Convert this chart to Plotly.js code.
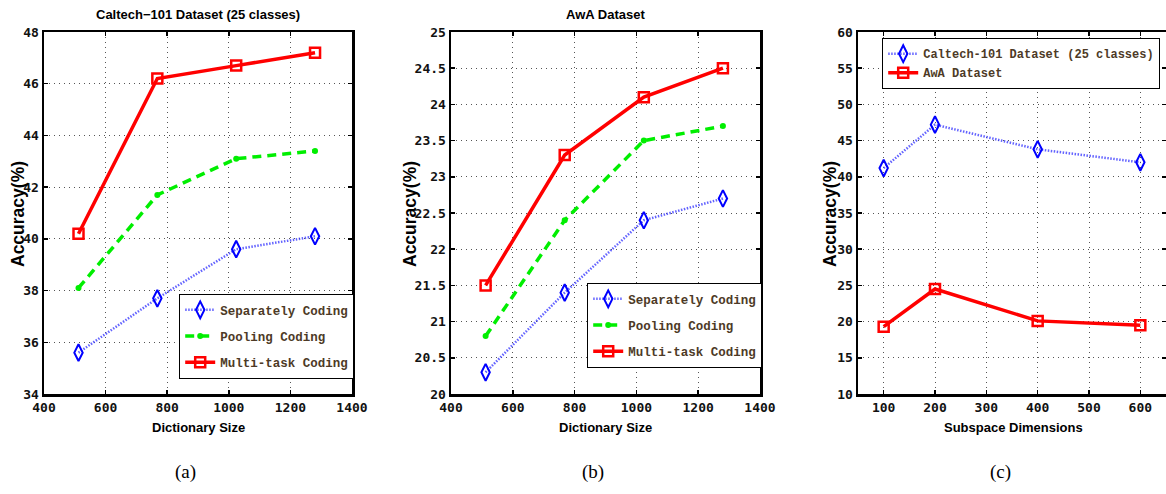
<!DOCTYPE html>
<html>
<head>
<meta charset="utf-8">
<script src="https://cdn.plot.ly/plotly-3.0.1.min.js"></script>
<style>html,body{margin:0;padding:0;background:#fff;overflow:hidden}</style>
</head>
<body>
<div id="chart" style="width:1166px;height:494px"></div>
<script>
// ---- data ----
const dictSizes = [512, 768, 1024, 1280];
const calSeparately = [35.6, 37.7, 39.6, 40.1];
const calPooling = [38.1, 41.7, 43.1, 43.4];
const calMultitask = [40.2, 46.2, 46.7, 47.2];
const awaSeparately = [20.3, 21.4, 22.4, 22.7];
const awaPooling = [20.8, 22.4, 23.5, 23.7];
const awaMultitask = [21.5, 23.3, 24.1, 24.5];
const subspaceDims = [100, 200, 400, 600];
const dimCaltech = [41.2, 47.2, 43.8, 42.0];
const dimAwa = [19.3, 24.5, 20.1, 19.5];
const codingNames = ['Separately Coding', 'Pooling Coding', 'Multi-task Coding'];
const datasetNames = ['Caltech-101 Dataset (25 classes)', 'AwA Dataset'];
const panelTitles = ['Caltech\u2212101 Dataset (25 classes)', 'AwA Dataset', ''];
const xTitles = ['Dictionary Size', 'Dictionary Size', 'Subspace Dimensions'];
const yTitle = 'Accuracy(%)';
const panelLabels = ['(a)', '(b)', '(c)'];

// ---- styles ----
const W = 1166, H = 494;
const sepStyle = {
  line: {color: 'rgba(60,60,255,0.8)', width: 2.5, dash: '1.5px,1.5px'},
  marker: {symbol: 'diamond-tall-open', size: 12, color: '#0000ff', line: {width: 2, color: '#0000ff'}}
};
const poolStyle = {
  line: {color: '#00ee00', width: 3.5, dash: '9px,6px'},
  marker: {symbol: 'circle', size: 6, color: '#00ee00'}
};
const multiStyle = {
  line: {color: '#ff0000', width: 3.5},
  marker: {symbol: 'square-open', size: 10, color: '#ff0000', line: {width: 2.5, color: '#ff0000'}}
};
const styles = [sepStyle, poolStyle, multiStyle];

function mk(x, y, name, st, xa, ya, legend, group) {
  return {
    x: x, y: y, name: name, type: 'scatter', mode: 'lines+markers',
    line: st.line, marker: st.marker, xaxis: xa, yaxis: ya,
    legend: legend, legendgroup: group
  };
}

const traces = [];
[calSeparately, calPooling, calMultitask].forEach((ys, i) =>
  traces.push(mk(dictSizes, ys, codingNames[i], styles[i], 'x', 'y', 'legend', 'a' + i)));
[awaSeparately, awaPooling, awaMultitask].forEach((ys, i) =>
  traces.push(mk(dictSizes, ys, codingNames[i], styles[i], 'x2', 'y2', 'legend2', 'b' + i)));
traces.push(mk(subspaceDims, dimCaltech, datasetNames[0], sepStyle, 'x3', 'y3', 'legend3', 'c0'));
traces.push(mk(subspaceDims, dimAwa, datasetNames[1], multiStyle, 'x3', 'y3', 'legend3', 'c1'));

// pixel boxes of the three panels
const boxes = [[44, 352], [451, 760], [858, 1166]];
const yTop = 32, yBot = 394;
const tickFont = {family: 'DejaVu Sans Mono, Liberation Mono, monospace', size: 13, color: '#111', weight: 700};
function common() {
  return {
    tickmode: 'linear',
    showline: true, linecolor: '#000', linewidth: 2.5, mirror: 'ticks',
    ticks: 'inside', ticklen: 4, tickwidth: 1.5, tickcolor: '#000',
    showgrid: true, gridcolor: '#555', gridwidth: 1, griddash: '1px,4px',
    zeroline: false, tickfont: tickFont, fixedrange: true, automargin: false
  };
}
function xax(i, range, dtick, tick0) {
  return Object.assign(common(), {
    domain: [boxes[i][0] / W, boxes[i][1] / W], anchor: i === 0 ? 'y' : 'y' + (i + 1),
    range: range, dtick: dtick, tick0: tick0
  });
}
function yax(i, range, dtick, tick0) {
  return Object.assign(common(), {
    domain: [1 - yBot / H, 1 - yTop / H], anchor: i === 0 ? 'x' : 'x' + (i + 1),
    range: range, dtick: dtick, tick0: tick0
  });
}

const sansBold = 'Liberation Sans, Arial, sans-serif';
const titleFont = {family: sansBold, size: 13, color: '#000', weight: 700};
const yTitleFont = {family: sansBold, size: 17.5, color: '#000', weight: 700};
const annotations = [];
boxes.forEach((b, i) => {
  const cx = (b[0] + (i === 2 ? 1168 : b[1])) / 2;
  if (panelTitles[i]) annotations.push({text: panelTitles[i], xref: 'paper', yref: 'paper',
    x: cx / W, y: 1 - 14 / H, xanchor: 'center', yanchor: 'middle', showarrow: false, font: titleFont});
  annotations.push({text: xTitles[i], xref: 'paper', yref: 'paper',
    x: cx / W, y: 1 - 427 / H, xanchor: 'center', yanchor: 'middle', showarrow: false, font: titleFont});
  annotations.push({text: panelLabels[i], xref: 'paper', yref: 'paper',
    x: [185, 593, 1000][i] / W, y: 1 - 472 / H, xanchor: 'center', yanchor: 'middle', showarrow: false,
    font: {family: 'Liberation Serif, Times New Roman, serif', size: 19, color: '#000'}});
  annotations.push({text: yTitle, xref: 'paper', yref: 'paper', textangle: -90,
    x: [18, 410, 830][i] / W, y: 1 - 214 / H, xanchor: 'center', yanchor: 'middle', showarrow: false, font: yTitleFont});
});

function leg(px, py, gap, fs) {
  return {x: px / W, y: 1 - py / H, xref: 'paper', yref: 'paper', xanchor: 'left', yanchor: 'top',
    bgcolor: '#fff', bordercolor: '#000', borderwidth: 1.2,
    font: {family: 'Liberation Mono, Courier New, monospace', size: fs, color: '#4d3a26', weight: 700},
    itemwidth: 30, tracegroupgap: gap, traceorder: 'grouped', itemclick: false, itemdoubleclick: false};
}

const layout = {
  width: W, height: H, margin: {l: 0, r: 0, t: 0, b: 0, autoexpand: false},
  paper_bgcolor: '#fff', plot_bgcolor: '#fff', showlegend: true,
  xaxis: xax(0, [400, 1400], 200, 400), yaxis: yax(0, [34, 48], 2, 34),
  xaxis2: xax(1, [400, 1400], 200, 400), yaxis2: yax(1, [20, 25], 0.5, 20),
  xaxis3: xax(2, [50, 650], 100, 100), yaxis3: yax(2, [10, 60], 5, 10),
  legend: leg(179, 294, 7, 12.5), legend2: leg(587, 283, 7, 12.5), legend3: leg(882, 38, 0, 12),
  annotations: annotations
};

Plotly.newPlot('chart', traces, layout, {displayModeBar: false, staticPlot: true});
</script>
</body>
</html>
